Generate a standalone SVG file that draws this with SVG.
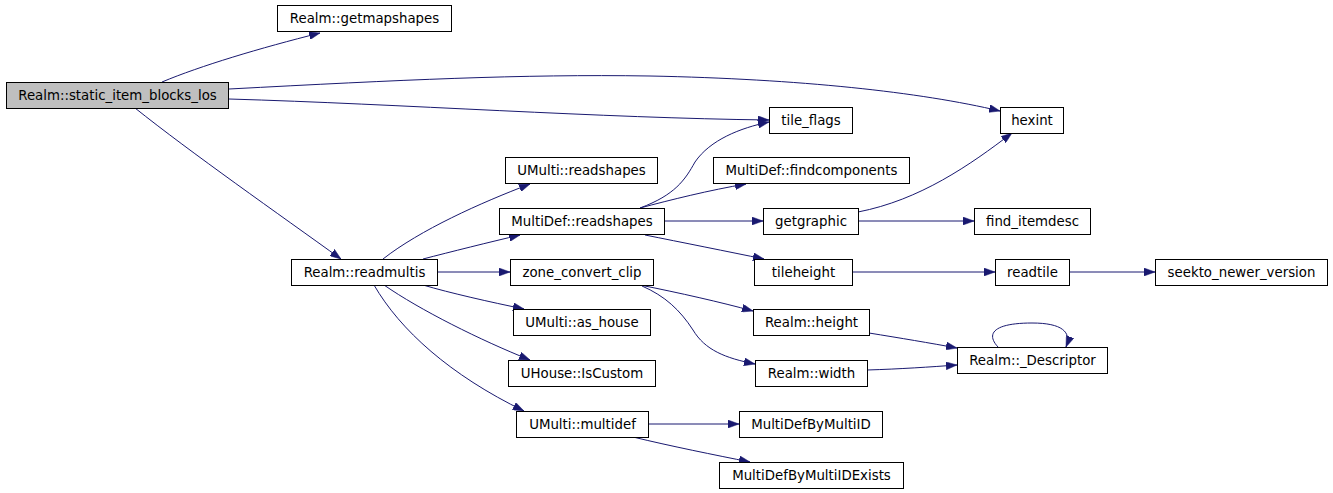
<svg xmlns="http://www.w3.org/2000/svg" width="1333" height="493" viewBox="0 0 1333 493">
<style>
.n rect{fill:#fff;stroke:#000;stroke-width:1}
.root rect{fill:#bfbfbf}
.n text{font-family:"DejaVu Sans",sans-serif;font-size:13.33px;text-anchor:middle;fill:#000}
.e path{fill:none;stroke:#191970;stroke-width:1;marker-end:url(#ah)}
</style>
<defs>
<marker id="ah" viewBox="0 0 11 8" refX="11" refY="4" markerWidth="11" markerHeight="8" markerUnits="userSpaceOnUse" orient="auto">
<path d="M0,0 L11,4 L0,8 z" fill="#191970" stroke="#191970" stroke-width="0.5"/>
</marker>
</defs>
<rect width="1333" height="493" fill="#fff"/>
<g id="connectors" class="e">
<path d="M162,82 C200,66 260,48 320,33"/>
<path d="M229,89 C400,80 520,74 650,76 C800,79 920,92 1000,111"/>
<path d="M229,99 C400,104 600,118 769,120"/>
<path d="M135,108 C190,152 280,215 341,259"/>
<path d="M383,259 C420,230 480,203 530,184"/>
<path d="M423,259 C450,252 490,242 520,235"/>
<path d="M437,272 L510,272"/>
<path d="M423,285 C450,293 490,302 524,309"/>
<path d="M384,285 C420,310 480,340 530,360"/>
<path d="M374,285 C400,330 450,375 524,411"/>
<path d="M640,208 C675,195 685,180 695,162 C710,140 740,128 769,122"/>
<path d="M640,208 C670,200 710,190 746,184"/>
<path d="M664,221 L763,221"/>
<path d="M645,235 C680,242 730,252 764,259"/>
<path d="M858,212 C920,200 970,165 1012,133"/>
<path d="M858,221 L974,221"/>
<path d="M852,272 L995,272"/>
<path d="M1069,272 L1155,272"/>
<path d="M640,285 C680,293 720,302 753,311"/>
<path d="M642,286 C665,296 680,310 693,330 C705,350 725,358 755,364"/>
<path d="M869,333 C900,338 930,343 957,348"/>
<path d="M867,370 C900,369 930,367 957,365"/>
<path d="M998,347 C985,333 995,323 1032,323 C1062,323 1072,332 1066,347"/>
<path d="M648,424 L739,424"/>
<path d="M633,437 C670,446 715,455 750,462"/>
</g>
<g id="n_root" class="n root"><rect x="6.5" y="82.5" width="222" height="26"/><text x="117.5" y="100">Realm::static_item_blocks_los</text></g>
<g id="n_getmapshapes" class="n"><rect x="277.5" y="5.5" width="174" height="26"/><text x="364.5" y="23">Realm::getmapshapes</text></g>
<g id="n_hexint" class="n"><rect x="1000.5" y="107.5" width="63" height="26"/><text x="1032" y="125">hexint</text></g>
<g id="n_tile_flags" class="n"><rect x="769.5" y="107.5" width="83" height="26"/><text x="811" y="125">tile_flags</text></g>
<g id="n_umulti_readshapes" class="n"><rect x="505.5" y="157.5" width="152" height="26"/><text x="581.5" y="175">UMulti::readshapes</text></g>
<g id="n_findcomponents" class="n"><rect x="713.5" y="157.5" width="196" height="26"/><text x="811.5" y="175">MultiDef::findcomponents</text></g>
<g id="n_multidef_readshapes" class="n"><rect x="499.5" y="208.5" width="165" height="26"/><text x="582" y="226">MultiDef::readshapes</text></g>
<g id="n_getgraphic" class="n"><rect x="763.5" y="208.5" width="95" height="26"/><text x="811" y="226">getgraphic</text></g>
<g id="n_find_itemdesc" class="n"><rect x="974.5" y="208.5" width="116" height="26"/><text x="1032.5" y="226">find_itemdesc</text></g>
<g id="n_tileheight" class="n"><rect x="754.5" y="259.5" width="98" height="26"/><text x="803.5" y="277">tileheight</text></g>
<g id="n_readtile" class="n"><rect x="995.5" y="259.5" width="74" height="26"/><text x="1032.5" y="277">readtile</text></g>
<g id="n_seekto" class="n"><rect x="1155.5" y="259.5" width="172" height="26"/><text x="1241.5" y="277">seekto_newer_version</text></g>
<g id="n_readmultis" class="n"><rect x="291.5" y="259.5" width="146" height="26"/><text x="364.5" y="277">Realm::readmultis</text></g>
<g id="n_zone_convert_clip" class="n"><rect x="510.5" y="259.5" width="143" height="26"/><text x="582" y="277">zone_convert_clip</text></g>
<g id="n_as_house" class="n"><rect x="513.5" y="309.5" width="137" height="26"/><text x="582" y="327">UMulti::as_house</text></g>
<g id="n_iscustom" class="n"><rect x="508.5" y="360.5" width="147" height="26"/><text x="582" y="378">UHouse::IsCustom</text></g>
<g id="n_height" class="n"><rect x="753.5" y="309.5" width="116" height="26"/><text x="811.5" y="327">Realm::height</text></g>
<g id="n_width" class="n"><rect x="755.5" y="360.5" width="112" height="26"/><text x="811.5" y="378">Realm::width</text></g>
<g id="n_descriptor" class="n"><rect x="957.5" y="347.5" width="150" height="26"/><text x="1032.5" y="365">Realm::_Descriptor</text></g>
<g id="n_multidef" class="n"><rect x="516.5" y="411.5" width="132" height="26"/><text x="582.5" y="429">UMulti::multidef</text></g>
<g id="n_bymultiid" class="n"><rect x="739.5" y="411.5" width="143" height="26"/><text x="811" y="429">MultiDefByMultiID</text></g>
<g id="n_bymultiidexists" class="n"><rect x="719.5" y="462.5" width="184" height="26"/><text x="811.5" y="480">MultiDefByMultiIDExists</text></g>
</svg>
